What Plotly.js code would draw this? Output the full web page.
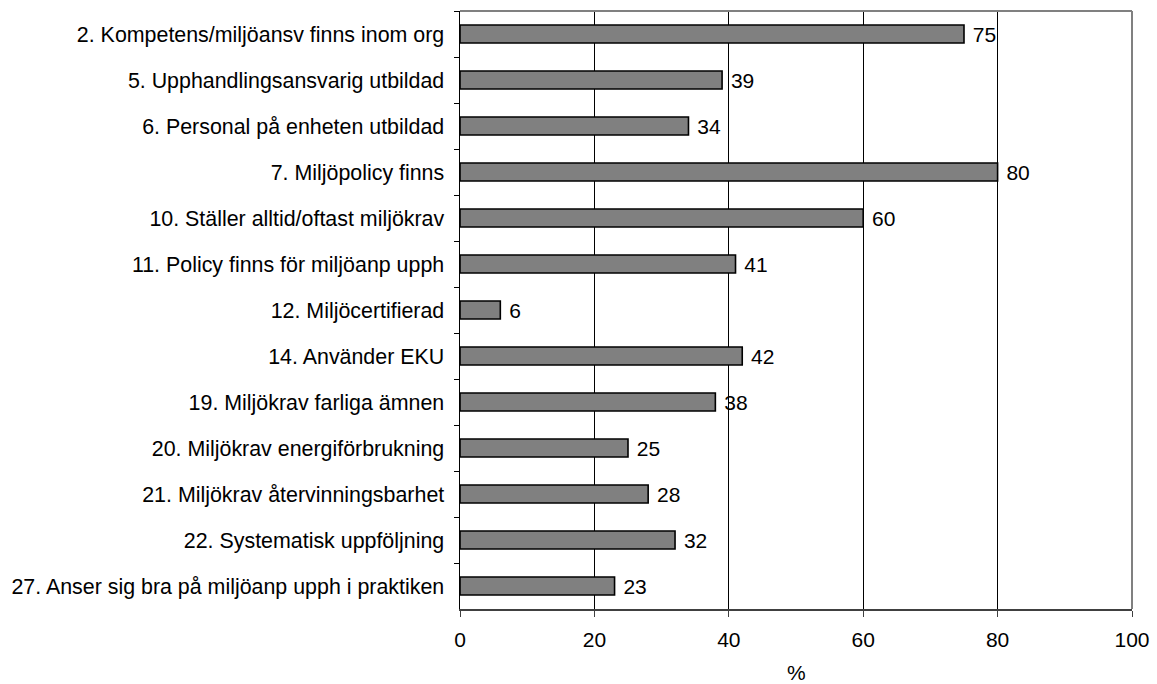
<!DOCTYPE html>
<html>
<head>
<meta charset="utf-8">
<script src="https://cdn.plot.ly/plotly-3.0.1.min.js"></script>
<style>html,body{margin:0;padding:0;background:#fff;}</style>
</head>
<body>
<div id="chart" style="width:1157px;height:684px;"></div>
<script>
var categories = [
  "2. Kompetens/miljöansv finns inom org",
  "5. Upphandlingsansvarig utbildad",
  "6. Personal på enheten utbildad",
  "7. Miljöpolicy finns",
  "10. Ställer alltid/oftast miljökrav",
  "11. Policy finns för miljöanp upph",
  "12. Miljöcertifierad",
  "14. Använder EKU",
  "19. Miljökrav farliga ämnen",
  "20. Miljökrav energiförbrukning",
  "21. Miljökrav återvinningsbarhet",
  "22. Systematisk uppföljning",
  "27. Anser sig bra på miljöanp upph i praktiken"
];
var values = [75, 39, 34, 80, 60, 41, 6, 42, 38, 25, 28, 32, 23];
var xTicks = [0, 20, 40, 60, 80, 100];
var xTitle = "%";

var font = "Liberation Sans, Arial, sans-serif";

var trace = {
  type: "bar",
  orientation: "h",
  x: values,
  y: categories,
  width: 0.39,
  marker: {color: "#808080", line: {color: "#000000", width: 1.6}},
  text: values.map(function(v){ return " " + v; }),
  textposition: "outside",
  constraintext: "none",
  cliponaxis: false,
  textfont: {family: font, size: 21, color: "#000000"},
  hoverinfo: "none"
};

var layout = {
  width: 1157,
  height: 684,
  margin: {l: 460, r: 25, t: 11, b: 75, pad: 0},
  paper_bgcolor: "#ffffff",
  plot_bgcolor: "#ffffff",
  showlegend: false,
  font: {family: font, size: 21, color: "#000000"},
  xaxis: {
    range: [0, 100],
    tickvals: xTicks,
    ticktext: xTicks.map(String),
    showgrid: true,
    gridcolor: "#000000",
    gridwidth: 1,
    zeroline: false,
    showline: true,
    linecolor: "#404040",
    linewidth: 1.5,
    ticks: "outside",
    ticklen: 6,
    tickcolor: "#404040",
    tickwidth: 1,
    ticklabelstandoff: 5,
    tickfont: {family: font, size: 21, color: "#000000"},
    fixedrange: true
  },
  yaxis: {
    type: "category",
    autorange: "reversed",
    showgrid: false,
    zeroline: false,
    showline: true,
    linecolor: "#000000",
    linewidth: 1.5,
    ticks: "outside",
    tickson: "boundaries",
    ticklen: 5,
    tickcolor: "#000000",
    tickwidth: 1,
    ticklabelstandoff: 10,
    tickfont: {family: font, size: 21.4, color: "#000000"},
    fixedrange: true
  },
  bargap: 0.6,
  annotations: [
    {text: xTitle, xref: "paper", yref: "paper", x: 0.5, y: -0.107, xanchor: "center", yanchor: "middle",
     showarrow: false, font: {family: font, size: 21, color: "#000000"}}
  ],
  shapes: [
    {type: "line", xref: "paper", yref: "paper", x0: 0, x1: 1, y0: 1, y1: 1, line: {color: "#808080", width: 2}},
    {type: "line", xref: "paper", yref: "paper", x0: 1, x1: 1, y0: 0, y1: 1, line: {color: "#808080", width: 2}}
  ]
};

Plotly.newPlot("chart", [trace], layout, {displayModeBar: false, staticPlot: true});
</script>
</body>
</html>
